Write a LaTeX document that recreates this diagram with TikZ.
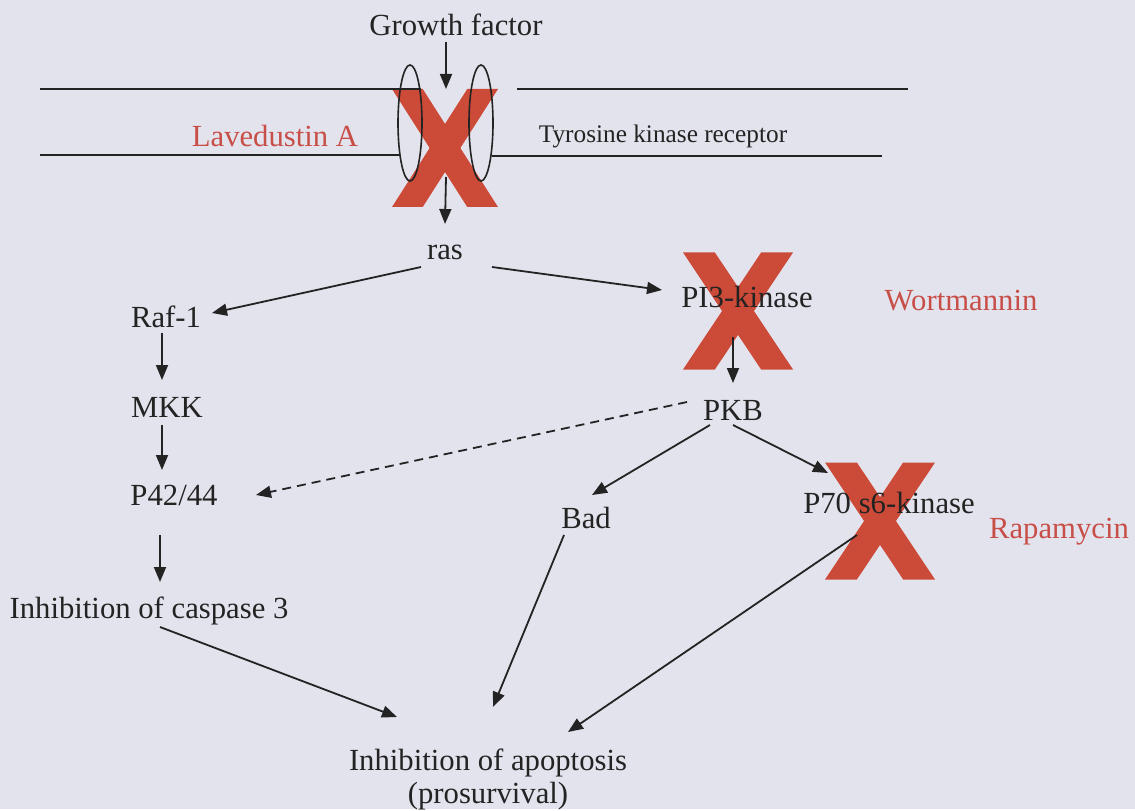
\documentclass[tikz,border=0pt]{standalone}
\usepackage{fontspec}
\setmainfont{Liberation Serif}
\usetikzlibrary{arrows.meta, calc}

\definecolor{bgpage}{RGB}{227,227,237}
\definecolor{ink}{RGB}{35,35,35}
\definecolor{xred}{RGB}{204,74,56}
\definecolor{drugred}{RGB}{200,78,72}

\begin{document}
\begin{tikzpicture}[x=1pt, y=-1pt,
  lbl/.style={anchor=base, inner sep=0pt, text=ink,
              font=\fontsize{30.7}{33}\selectfont},
  drug/.style={lbl, text=drugred},
  arr/.style={-{Triangle[length=15pt,width=12pt]}, line width=1.8pt, draw=ink},
  mem/.style={line width=1.8pt, draw=ink},
  redx/.pic={
    \fill[xred] (-0.5,-0.5) -- (-0.21,-0.5) -- (0.5,0.5) -- (0.21,0.5) -- cycle;
    \fill[xred] (0.21,-0.5) -- (0.5,-0.5) -- (-0.21,0.5) -- (-0.5,0.5) -- cycle;
  },
]
\fill[bgpage] (0,0) rectangle (1135,809);

% inhibitor crosses (behind everything)
\pic[xscale=106, yscale=118] at (445,148) {redx};
\pic[xscale=110, yscale=117] at (738,311) {redx};
\pic[xscale=110, yscale=117] at (880,521) {redx};

% membrane and receptor
\draw[mem] (40,89) -- (421,89);
\draw[mem] (40,155) -- (400,155);
\draw[mem] (517,89) -- (908,89);
\draw[mem] (492,156) -- (882,156);
\draw[line width=1.6pt, ink] (410,123) ellipse [x radius=12, y radius=58];
\draw[line width=1.6pt, ink] (481,123) ellipse [x radius=12, y radius=58];
\coordinate (rtop) at (446,89);
\coordinate (rbot) at (446,177);

% labels
\node[lbl] (gf) at (456,36) {Growth factor};
\node[drug] (lav) at (275,147) {Lavedustin A};
\node[lbl, font=\fontsize{25.3}{28}\selectfont] (tkr) at (663,143) {Tyrosine kinase receptor};
\node[lbl] (ras) at (445,260) {ras};
\node[lbl] (raf) at (166,327) {Raf-1};
\node[lbl] (mkk) at (167,417) {MKK};
\node[lbl] (perk) at (174,505) {P42/44};
\node[lbl] (casp) at (149,618) {Inhibition of caspase 3};
\node[lbl] (pi3) at (747,308) {PI3-kinase};
\node[drug] (wort) at (961,310) {Wortmannin};
\node[lbl] (pkb) at (733,420) {PKB};
\node[lbl] (bad) at (586,528) {Bad};
\node[lbl] (p70) at (889,513) {P70 s6-kinase};
\node[drug] (rapa) at (1059,538) {Rapamycin};
\node[lbl, anchor=north, align=center] (apop) at (488,749)
  {Inhibition of apoptosis\\(prosurvival)};

% signalling arrows
\draw[arr] ([shift={(-10,6)}]gf.base) -- (rtop);
\draw[arr] (rbot) -- ([shift={(0,-36)}]ras.base);
\draw[arr] ([shift={(-24,7)}]ras.base) -- ([shift={(46,-14)}]raf.base);
\draw[arr] ([shift={(47,7)}]ras.base) -- ([shift={(-85,-18)}]pi3.base);
\draw[arr] ([shift={(-4,6)}]raf.base) -- ([shift={(-5,-37)}]mkk.base);
\draw[arr] ([shift={(-5,8)}]mkk.base) -- ([shift={(-12,-35)}]perk.base);
\draw[arr] ([shift={(-14,30)}]perk.base) -- ([shift={(11,-36)}]casp.base);
\draw[arr] ([shift={(-14,29)}]pi3.base) -- ([shift={(0,-37)}]pkb.base);
\draw[arr, dash pattern=on 9pt off 6pt] ([shift={(-46,-18)}]pkb.base) -- ([shift={(82,-10)}]perk.base);
\draw[arr] ([shift={(-23,5)}]pkb.base) -- ([shift={(6,-33)}]bad.base);
\draw[arr] ([shift={(0,5)}]pkb.base) -- ([shift={(-61,-40)}]p70.base);
\draw[arr] ([shift={(11,9)}]casp.base) -- ([shift={(-91,-32)}]apop.north);
\draw[arr] ([shift={(-22,7)}]bad.base) -- ([shift={(5,-42)}]apop.north);
\draw[arr] ([shift={(-32,22)}]p70.base) -- ([shift={(80,-17)}]apop.north);
\end{tikzpicture}
\end{document}
